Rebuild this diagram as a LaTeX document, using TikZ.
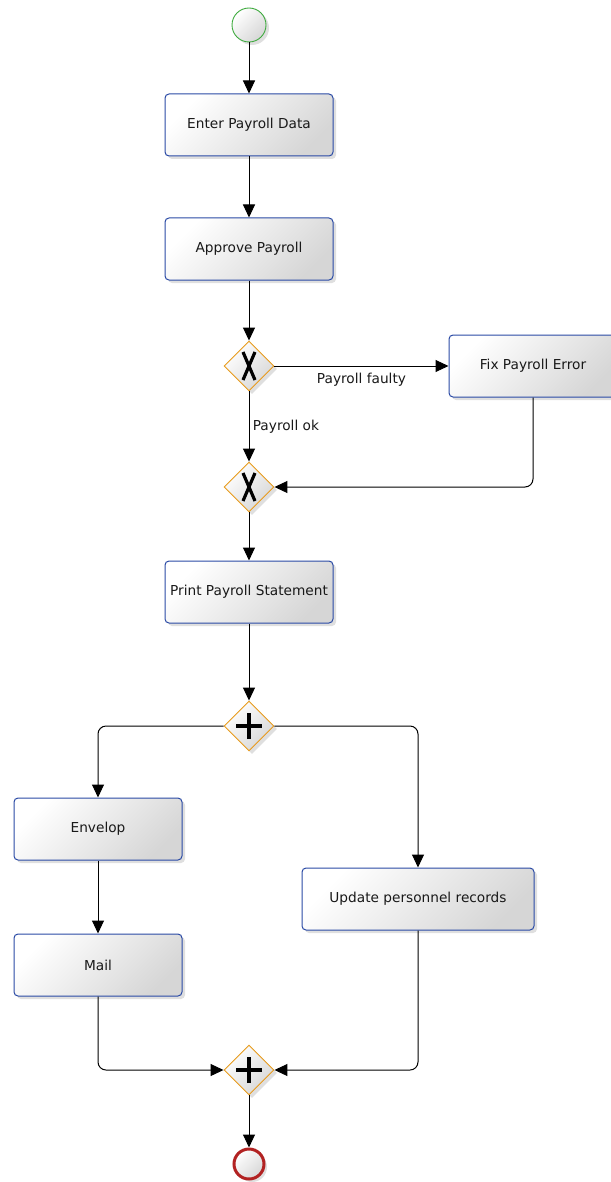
\documentclass[tikz,border=0pt]{standalone}
\usepackage{fontspec}
\setmainfont{DejaVu Sans}
\usetikzlibrary{shapes.geometric,arrows.meta,shadows}
\definecolor{taskblue}{HTML}{2A4AA5}
\definecolor{gateorange}{HTML}{E89B1C}
\definecolor{startgreen}{HTML}{3DAA3D}
\definecolor{endred}{HTML}{B22222}
\tikzset{
  bpmnfill/.style = {left color=white, right color=black!16, shading angle=45},
  bpmnshadow/.style = {drop shadow={opacity=0.25, shadow xshift=3pt, shadow yshift=-3pt}},
  task/.style = {
    draw=taskblue, line width=1pt, rounded corners=4pt,
    minimum width=168pt, minimum height=62pt,
    bpmnfill, bpmnshadow, text=black!90,
    font=\fontsize{13.7}{16}\selectfont
  },
  gate/.style = {
    diamond, aspect=1, draw=gateorange, line width=0.9pt,
    minimum width=50pt, minimum height=50pt, inner sep=0pt,
    bpmnfill, bpmnshadow
  },
  xorgate/.style = {gate,
    path picture={
      \draw[black, line width=3.2pt] ([shift={(-6pt,14pt)}]path picture bounding box.center)
        -- ([shift={(6pt,-14pt)}]path picture bounding box.center);
      \draw[black, line width=3.2pt] ([shift={(6pt,14pt)}]path picture bounding box.center)
        -- ([shift={(-6pt,-14pt)}]path picture bounding box.center);
    }
  },
  andgate/.style = {gate,
    path picture={
      \draw[black, line width=3.5pt] ([xshift=-13pt]path picture bounding box.center)
        -- ([xshift=13pt]path picture bounding box.center);
      \draw[black, line width=3.5pt] ([yshift=-13pt]path picture bounding box.center)
        -- ([yshift=13pt]path picture bounding box.center);
    }
  },
  startevent/.style = {circle, draw=startgreen, line width=0.9pt,
    minimum size=34pt, inner sep=0pt, bpmnfill, bpmnshadow},
  endevent/.style = {circle, draw=endred, line width=3pt,
    minimum size=30pt, inner sep=0pt, bpmnfill, bpmnshadow},
  flow/.style = {draw=black, line width=1pt, -{Triangle[length=13pt,width=12pt]}},
  flowlabel/.style = {font=\fontsize{13.7}{16}\selectfont, text=black!90}
}

\begin{document}
\begin{tikzpicture}[x=1pt,y=-1pt]
  \useasboundingbox (0,0) rectangle (610,1182);
  % events
  \node[startevent] (start) at (249,25) {};
  \node[endevent] (end) at (249,1164) {};
  % tasks
  \node[task] (enter) at (249,125) {Enter Payroll Data};
  \node[task] (approve) at (249,249) {Approve Payroll};
  \node[task] (fix) at (533,366) {Fix Payroll Error};
  \node[task] (print) at (249,592) {Print Payroll Statement};
  \node[task] (envelop) at (98,829) {Envelop};
  \node[task] (mail) at (98,965) {Mail};
  \node[task, minimum width=232pt] (update) at (418,899) {Update personnel records};
  % gateways
  \node[xorgate] (split) at (249,366) {};
  \node[xorgate] (merge) at (249,487) {};
  \node[andgate] (fork) at (249,726) {};
  \node[andgate] (join) at (249,1070) {};
  % flows
  \draw[flow] (start) -- (enter);
  \draw[flow] (enter) -- (approve);
  \draw[flow] (approve) -- (split);
  \draw[flow] (split) -- node[flowlabel, below=3pt] {Payroll faulty} (fix);
  \draw[flow] (split) -- node[flowlabel, right] {Payroll ok} (merge);
  \draw[flow, rounded corners=8pt] (fix) |- (merge);
  \draw[flow] (merge) -- (print);
  \draw[flow] (print) -- (fork);
  \draw[flow, rounded corners=8pt] (fork) -| (envelop);
  \draw[flow, rounded corners=8pt] (fork) -| (update);
  \draw[flow] (envelop) -- (mail);
  \draw[flow, rounded corners=8pt] (mail) |- (join);
  \draw[flow, rounded corners=8pt] (update) |- (join);
  \draw[flow] (join) -- (end);
\end{tikzpicture}
\end{document}
